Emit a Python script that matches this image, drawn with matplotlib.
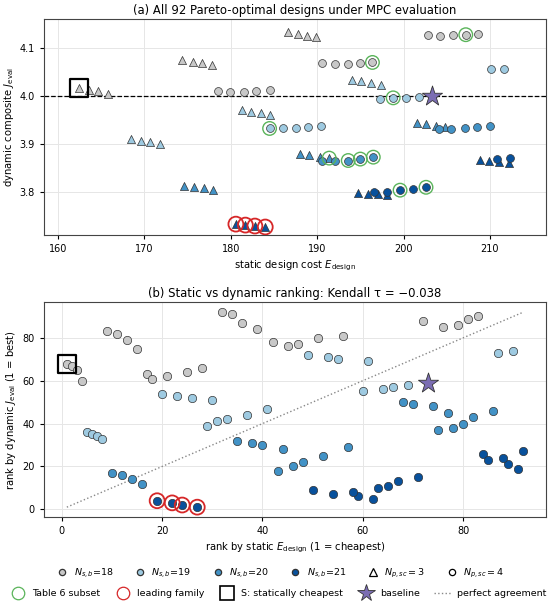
import matplotlib
matplotlib.use("Agg")
import matplotlib.pyplot as plt
from matplotlib.lines import Line2D

# colours per N_s,b
colors = {18: "#c8c8c8", 19: "#9ecae1", 20: "#4292c6", 21: "#08519c"}
groups = [18, 19, 20, 21]

# panel (a): static cost / dynamic composite, triangles = N_p,sc 3, circles = N_p,sc 4
a_tri_x = {
    18: [162.5, 163.6, 164.7, 165.8, 174.4, 175.6, 176.7, 177.8, 186.6, 187.8, 188.8, 189.9],
    19: [168.5, 169.6, 170.7, 171.8, 181.3, 182.4, 183.5, 184.6, 194.0, 195.1, 196.2, 197.4],
    20: [174.6, 175.8, 176.9, 178.0, 188.0, 189.1, 190.3, 191.4, 201.5, 202.6, 203.7, 204.8],
    21: [180.6, 181.7, 182.8, 184.0, 194.7, 195.9, 197.0, 198.1, 208.8, 209.9, 211.0, 212.2],
}
a_tri_y = {
    18: [4.017, 4.013, 4.011, 4.005, 4.075, 4.071, 4.068, 4.064, 4.134, 4.130, 4.126, 4.123],
    19: [3.909, 3.906, 3.903, 3.899, 3.970, 3.967, 3.964, 3.961, 4.034, 4.031, 4.027, 4.023],
    20: [3.812, 3.809, 3.807, 3.804, 3.879, 3.876, 3.873, 3.870, 3.943, 3.941, 3.938, 3.936],
    21: [3.732, 3.730, 3.728, 3.726, 3.798, 3.796, 3.794, 3.792, 3.867, 3.865, 3.862, 3.860],
}
a_cir_x = {
    18: [178.5, 179.9, 181.5, 182.9, 184.5, 190.6, 192.1, 193.6, 195.0, 196.4, 202.8, 204.2, 205.7, 207.2, 208.6],
    19: [184.5, 186.0, 187.5, 189.0, 190.5, 197.3, 198.8, 200.3, 201.8, 210.1, 211.6],
    20: [190.6, 192.1, 193.6, 195.0, 196.5, 204.1, 205.5, 207.1, 208.5, 210.0],
    21: [196.6, 198.1, 199.6, 201.1, 202.6, 210.8, 212.3],
}
a_cir_y = {
    18: [4.010, 4.009, 4.009, 4.010, 4.012, 4.068, 4.067, 4.067, 4.068, 4.070, 4.128, 4.126, 4.127, 4.128, 4.129],
    19: [3.932, 3.932, 3.933, 3.935, 3.937, 3.994, 3.996, 3.996, 3.998, 4.056, 4.057],
    20: [3.863, 3.864, 3.865, 3.868, 3.872, 3.931, 3.930, 3.933, 3.934, 3.937],
    21: [3.799, 3.800, 3.803, 3.806, 3.809, 3.868, 3.871],
}

# panel (b): ranks, same order as panel (a)
b_tri_static = {
    18: [1, 2, 3, 4, 9, 11, 13, 15, 32, 34, 36, 39],
    19: [5, 6, 7, 8, 20, 23, 26, 30, 49, 53, 55, 61],
    20: [10, 12, 14, 16, 35, 38, 40, 44, 68, 70, 74, 77],
    21: [19, 22, 24, 27, 50, 54, 59, 62, 84, 85, 89, 91],
}
b_tri_dyn = {
    18: [68, 67, 65, 60, 83, 82, 79, 75, 92, 91, 87, 84],
    19: [36, 35, 34, 33, 54, 53, 52, 51, 72, 71, 70, 69],
    20: [17, 16, 14, 12, 32, 31, 30, 28, 50, 49, 48, 45],
    21: [4, 3, 2, 1, 9, 7, 6, 5, 26, 23, 21, 19],
}
b_cir_static = {
    18: [17, 18, 21, 25, 28, 42, 45, 47, 51, 56, 72, 76, 79, 81, 83],
    19: [29, 31, 33, 37, 41, 60, 64, 66, 69, 87, 90],
    20: [43, 46, 48, 52, 57, 75, 78, 80, 82, 86],
    21: [58, 63, 65, 67, 71, 88, 92],
}
b_cir_dyn = {
    18: [63, 61, 62, 64, 66, 78, 76, 77, 80, 81, 88, 85, 86, 89, 90],
    19: [39, 41, 42, 44, 47, 55, 56, 57, 58, 73, 74],
    20: [18, 20, 22, 25, 29, 37, 38, 40, 43, 46],
    21: [8, 10, 11, 13, 15, 24, 27],
}

baseline_cost, baseline_J = 203.3, 4.000
baseline_rank_static, baseline_rank_dyn = 73, 59
J_ref = 4.0
n_designs = 92

# highlighted designs: (group, marker, index)
table6 = [(18, "o", 9), (18, "o", 13), (19, "o", 0), (19, "o", 6), (20, "^", 7),
          (20, "o", 2), (20, "o", 3), (20, "o", 4), (21, "o", 2), (21, "o", 4)]
leading = [(21, "^", 0), (21, "^", 1), (21, "^", 2), (21, "^", 3)]
cheapest = (18, "^", 0)


def pick_a(g, m, i):
    if m == "^":
        return a_tri_x[g][i], a_tri_y[g][i]
    return a_cir_x[g][i], a_cir_y[g][i]


def pick_b(g, m, i):
    if m == "^":
        return b_tri_static[g][i], b_tri_dyn[g][i]
    return b_cir_static[g][i], b_cir_dyn[g][i]


edge = "#333333"
green = "#5ab45a"
red = "#d62728"
star_c = "#7b6db3"

plt.rcParams["font.size"] = 7.2
plt.rcParams["xtick.labelsize"] = 7
plt.rcParams["ytick.labelsize"] = 7
plt.rcParams["xtick.major.size"] = 3
plt.rcParams["ytick.major.size"] = 3
fig = plt.figure(figsize=(5.5, 6.06), dpi=100)
ax1 = fig.add_axes([0.080, 0.612, 0.913, 0.356])
ax2 = fig.add_axes([0.080, 0.147, 0.913, 0.354])

# ---- panel (a)
for g in groups:
    ax1.scatter(a_tri_x[g], a_tri_y[g], marker="^", s=34, c=colors[g], edgecolors=edge, linewidths=0.5, zorder=3)
for g in groups:
    ax1.scatter(a_cir_x[g], a_cir_y[g], marker="o", s=32, c=colors[g], edgecolors=edge, linewidths=0.5, zorder=3)
ax1.axhline(J_ref, color="k", ls="--", lw=0.9, zorder=2)
for d in table6:
    x, y = pick_a(*d)
    ax1.scatter([x], [y], s=95, facecolors="none", edgecolors=green, linewidths=1.0, zorder=4)
for d in leading:
    x, y = pick_a(*d)
    ax1.scatter([x], [y], s=115, facecolors="none", edgecolors=red, linewidths=1.3, zorder=4)
x, y = pick_a(*cheapest)
ax1.scatter([x], [y], marker="s", s=170, facecolors="none", edgecolors="k", linewidths=1.6, zorder=4)
ax1.scatter([baseline_cost], [baseline_J], marker="*", s=230, c=star_c, edgecolors=edge, linewidths=0.6, zorder=5)
ax1.set_xlim(158.4, 216.5)
ax1.set_ylim(3.709, 4.160)
ax1.set_yticks([3.8, 3.9, 4.0, 4.1])
ax1.set_xlabel(r"static design cost $E_{\rm design}$", labelpad=3)
ax1.set_ylabel(r"dynamic composite $J_{\rm eval}$", labelpad=3)
ax1.set_title("(a) All 92 Pareto-optimal designs under MPC evaluation", fontsize=8.4, pad=4)
ax1.grid(True, color="#e6e6e6", lw=0.7)
ax1.set_axisbelow(True)

# ---- panel (b)
for g in groups:
    ax2.scatter(b_tri_static[g] + b_cir_static[g], b_tri_dyn[g] + b_cir_dyn[g], marker="o", s=36,
                c=colors[g], edgecolors=edge, linewidths=0.5, zorder=3)
ax2.plot([1, n_designs], [1, n_designs], ls=":", color="#888888", lw=1.0, zorder=2)
for d in leading:
    x, y = pick_b(*d)
    ax2.scatter([x], [y], s=115, facecolors="none", edgecolors=red, linewidths=1.3, zorder=4)
x, y = pick_b(*cheapest)
ax2.scatter([x], [y], marker="s", s=170, facecolors="none", edgecolors="k", linewidths=1.6, zorder=4)
ax2.scatter([baseline_rank_static], [baseline_rank_dyn], marker="*", s=230, c=star_c, edgecolors=edge, linewidths=0.6, zorder=5)
ax2.set_xlabel(r"rank by static $E_{\rm design}$ (1 = cheapest)", labelpad=3)
ax2.set_ylabel(r"rank by dynamic $J_{\rm eval}$ (1 = best)", labelpad=3)
ax2.set_title("(b) Static vs dynamic ranking: Kendall τ = −0.038", fontsize=8.4, pad=4)
ax2.grid(True, color="#e6e6e6", lw=0.7)
ax2.set_axisbelow(True)

for ax in (ax1, ax2):
    for sp in ax.spines.values():
        sp.set_color("#444444")
        sp.set_linewidth(0.8)

# ---- legends
row1 = [Line2D([], [], ls="none", marker="o", ms=4.5, mfc=colors[g], mec=edge, mew=0.9,
               label=r"$N_{s,b}$=%d" % g) for g in groups]
row1 += [Line2D([], [], ls="none", marker="^", ms=6, mfc="white", mec="k", mew=0.9, label=r"$N_{p,sc}=3$"),
         Line2D([], [], ls="none", marker="o", ms=4.5, mfc="white", mec="k", mew=0.9, label=r"$N_{p,sc}=4$")]
row2 = [Line2D([], [], ls="none", marker="o", ms=9, mfc="none", mec=green, mew=0.9, label="Table 6 subset"),
        Line2D([], [], ls="none", marker="o", ms=9, mfc="none", mec=red, mew=0.9, label="leading family"),
        Line2D([], [], ls="none", marker="s", ms=10, mfc="none", mec="k", mew=1.2, label="S: statically cheapest"),
        Line2D([], [], ls="none", marker="*", ms=13, mfc=star_c, mec=edge, mew=0.6, label="baseline"),
        Line2D([], [], ls=":", color="#888888", lw=1.0, label="perfect agreement")]
fig.legend(handles=row1, loc="center", bbox_to_anchor=(0.51, 0.054), ncol=6, frameon=False,
           fontsize=6.8, handletextpad=0.6, columnspacing=2.2, handlelength=1.2)
fig.legend(handles=row2, loc="center", bbox_to_anchor=(0.505, 0.020), ncol=5, frameon=False,
           fontsize=6.8, handletextpad=0.6, columnspacing=1.5, handlelength=1.8)

fig.savefig("out.png", dpi=100)
